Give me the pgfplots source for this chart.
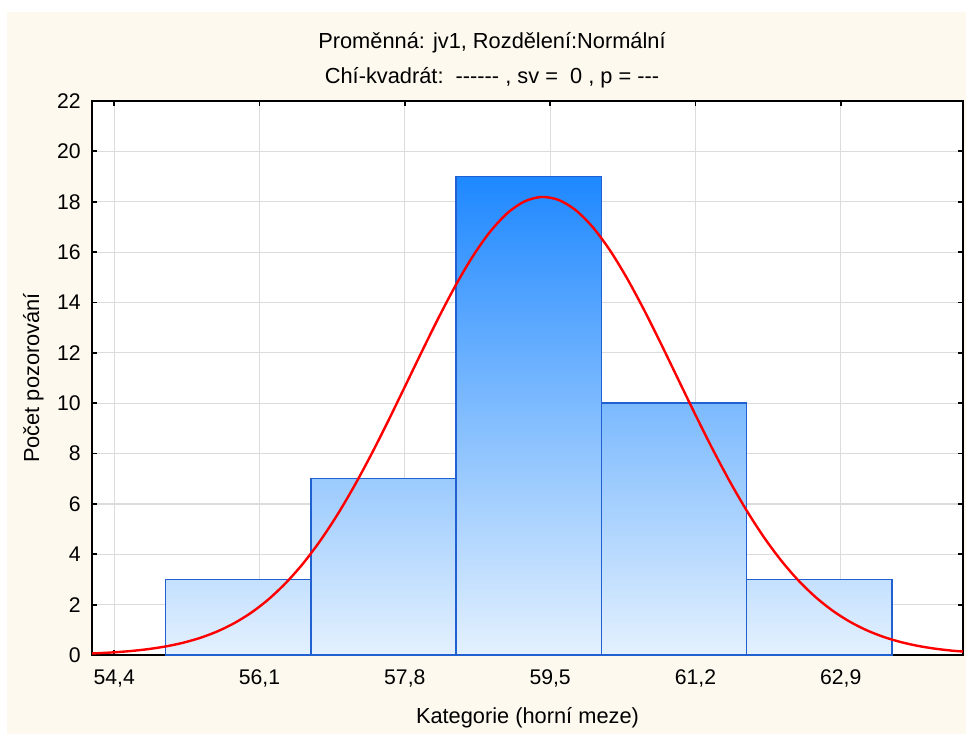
\documentclass[border=0pt]{standalone}
\usepackage{fontspec}
\setmainfont{Liberation Sans}
\usepackage{pgfplots}
\pgfplotsset{compat=1.18}

\definecolor{bgcream}{RGB}{254,249,239}
\definecolor{barDark}{RGB}{30,136,255}
\definecolor{barLight}{RGB}{228,241,254}
\definecolor{barEdge}{RGB}{32,96,208}
\definecolor{gridgray}{RGB}{220,220,220}

% grid behind the bars, ticks and frame in front of them
\pgfplotsset{
  layers/hist/.define layer set={axis background,axis grid,pre main,main,axis ticks,axis lines,axis tick labels,axis descriptions,axis foreground}{},
}

\newcommand\hy{\mbox{-}}

\begin{document}
\begin{tikzpicture}
\fill[white] (0pt,0pt) rectangle (483pt,-367pt);
\fill[bgcream] (3.5pt,-6pt) rectangle (483pt,-367pt);
\begin{axis}[
  set layers=hist,
  at={(46pt,-327.5pt)}, anchor=south west,
  scale only axis, width=435.5pt, height=277pt,
  xmin=54.14, xmax=64.33, ymin=0, ymax=22,
  xtick={54.4,56.1,57.8,59.5,61.2,62.9},
  ytick={0,2,...,22},
  grid=major, major grid style={gridgray, line width=0.6pt},
  axis line style={black, line width=1pt},
  tick style={black, line width=0.9pt}, major tick length=2.5pt, tick align=inside,
  axis background/.style={fill=white},
  /pgf/number format/assume math mode=true,
  tick label style={font=\fontsize{10.6}{12}\selectfont},
  xticklabel style={anchor=north, inner sep=0pt, yshift=-7.3pt,
    /pgf/number format/.cd, fixed, fixed zerofill, precision=1, use comma},
  yticklabel style={anchor=east, inner sep=0pt, xshift=-5.5pt},
  every axis x label/.style={at={(axis description cs:0.5,-0.1245)}, anchor=base,
    font=\fontsize{10.9}{12}\selectfont},
  every axis y label/.style={at={(axis description cs:-0.0608,0.5)}, rotate=90, anchor=base,
    font=\fontsize{10.9}{12}\selectfont},
  xlabel={Kategorie (horní meze)},
  ylabel={Počet pozorování},
]
% histogram bars (counts 3, 7, 19, 10, 3), shaded by height
\addplot[draw=barEdge, line width=0.7pt, top color=barDark!16!barLight, bottom color=barLight]
  coordinates {(55.0,0) (55.0,3) (56.7,3) (56.7,0)} \closedcycle;
\addplot[draw=barEdge, line width=0.7pt, top color=barDark!37!barLight, bottom color=barLight]
  coordinates {(56.7,0) (56.7,7) (58.4,7) (58.4,0)} \closedcycle;
\addplot[draw=barEdge, line width=0.7pt, top color=barDark!100!barLight, bottom color=barLight]
  coordinates {(58.4,0) (58.4,19) (60.1,19) (60.1,0)} \closedcycle;
\addplot[draw=barEdge, line width=0.7pt, top color=barDark!53!barLight, bottom color=barLight]
  coordinates {(60.1,0) (60.1,10) (61.8,10) (61.8,0)} \closedcycle;
\addplot[draw=barEdge, line width=0.7pt, top color=barDark!16!barLight, bottom color=barLight]
  coordinates {(61.8,0) (61.8,3) (63.5,3) (63.5,0)} \closedcycle;
% fitted normal curve (expected counts)
\addplot[red, line width=1.2pt, smooth] coordinates {
(54.14,0.061) (54.2,0.070) (54.4,0.107) (54.6,0.160) (54.8,0.235) (55.0,0.339)
(55.2,0.482) (55.4,0.674) (55.6,0.928) (55.8,1.257) (56.0,1.675) (56.2,2.197)
(56.4,2.835) (56.6,3.596) (56.8,4.489) (57.0,5.512) (57.2,6.660) (57.4,7.916)
(57.6,9.259) (57.8,10.654) (58.0,12.058) (58.2,13.430) (58.4,14.714) (58.6,15.860)
(58.8,16.819) (59.0,17.548) (59.2,18.012) (59.4,18.189) (59.6,18.070) (59.8,17.662)
(60.0,16.984) (60.2,16.069) (60.4,14.956) (60.6,13.695) (60.8,12.337) (61.0,10.934)
(61.2,9.535) (61.4,8.180) (61.6,6.903) (61.8,5.732) (62.0,4.682) (62.2,3.764)
(62.4,2.976) (62.6,2.316) (62.8,1.772) (63.0,1.334) (63.2,0.988) (63.4,0.720)
(63.6,0.516) (63.8,0.364) (64.0,0.253) (64.2,0.173) (64.33,0.139)
};
\end{axis}
\node[anchor=base, font=\fontsize{10.9}{12}\selectfont] at (246pt,-24pt)
  {Proměnná: jv1, Rozdělení:Normální};
\node[anchor=base, font=\fontsize{10.9}{12}\selectfont] at (246pt,-41.5pt)
  {Chí-kvadrát:\ \ \hy\hy\hy\hy\hy\hy\ , sv =\ \ 0 , p = \hy\hy\hy};
\end{tikzpicture}
\end{document}
